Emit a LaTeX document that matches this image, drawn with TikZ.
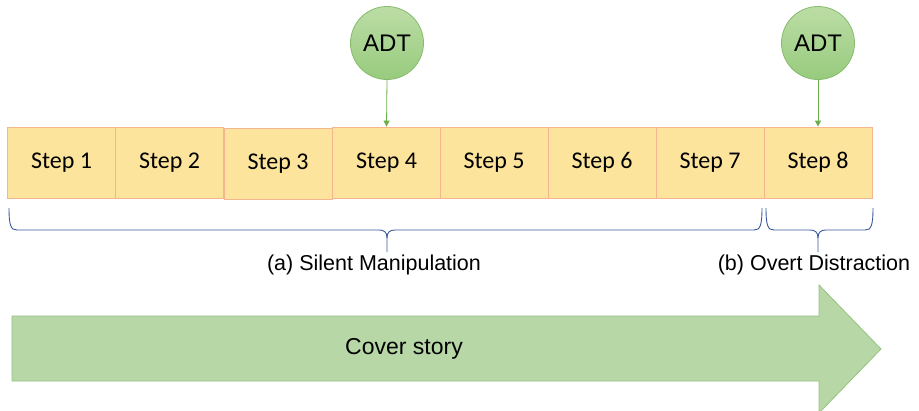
\documentclass[tikz,border=0pt]{standalone}
\usepackage{fontspec}
\setmainfont{Liberation Sans}
\newfontfamily\stepfont{Carlito}
\usetikzlibrary{arrows.meta}
\definecolor{stepfill}{HTML}{FDE49C}
\definecolor{stepline}{HTML}{F4B68E}
\definecolor{adttop}{HTML}{BCDDA6}
\definecolor{adtbot}{HTML}{97CB7D}
\definecolor{adtline}{HTML}{86BA6C}
\definecolor{linkgreen}{HTML}{6AAE4A}
\definecolor{bracecol}{HTML}{3A5A9C}
\definecolor{coverfill}{HTML}{B7D7A7}
\definecolor{coverline}{HTML}{95C27F}
\tikzset{
  stepbox/.style={draw=stepline, line width=0.8pt, fill=stepfill, minimum width=108pt,
    minimum height=71pt, inner sep=0pt, font=\stepfont\fontsize{24}{28}\selectfont},
  adtnode/.style={circle, draw=adtline, line width=0.8pt, top color=adttop, bottom color=adtbot,
    minimum size=73pt, inner sep=0pt, font=\fontsize{24}{28}\selectfont},
  link/.style={draw=linkgreen, line width=0.8pt, -{Triangle[length=6pt,width=6pt]}},
  bracepath/.style={draw=bracecol, line width=0.9pt},
  phase/.style={font=\fontsize{21.5}{25}\selectfont, inner sep=0pt}
}
\begin{document}
\begin{tikzpicture}[x=1pt,y=-1pt]
\useasboundingbox (0,0) rectangle (919,410);
% the eight steps of the procedure
\node[stepbox] (s1) at (61.5,162.5) {Step 1};
\node[stepbox] (s2) at (169.5,162.5) {Step 2};
\node[stepbox] (s3) at (278,163.5) {Step 3};
\node[stepbox] (s4) at (386.5,162.5) {Step 4};
\node[stepbox] (s5) at (494,162.5) {Step 5};
\node[stepbox] (s6) at (602,162.5) {Step 6};
\node[stepbox] (s7) at (710,162.5) {Step 7};
\node[stepbox] (s8) at (818,162.5) {Step 8};
% attention-drawing tasks
\node[adtnode] (adt1) at (387,43) {ADT};
\node[adtnode] (adt2) at (818,43) {ADT};
\draw[link] (adt1.south) -- (s4.north);
\draw[link] (adt2.south) -- (s8.north);
% brace under steps 1--7
\coordinate (ta) at (387,252);
\draw[bracepath] (9,208) .. controls (9,226) and (11,230) .. (17,230) -- (379,230)
  .. controls (384,230) and (387,232) .. (387,238) -- (ta);
\draw[bracepath] (762,208) .. controls (762,226) and (760,230) .. (754,230) -- (395,230)
  .. controls (390,230) and (387,232) .. (387,238);
% brace under step 8
\coordinate (tb) at (818,252);
\draw[bracepath] (766,208) .. controls (766,226) and (768,230) .. (774,230) -- (810,230)
  .. controls (815,230) and (818,232) .. (818,238) -- (tb);
\draw[bracepath] (873,208) .. controls (873,226) and (871,230) .. (865,230) -- (826,230)
  .. controls (821,230) and (818,232) .. (818,238);
\node[phase, anchor=north] (la) at (374,255) {(a) Silent Manipulation};
\node[phase, anchor=north] (lb) at (814,255) {(b) Overt Distraction};
% cover story arrow
\draw[draw=coverline, fill=coverfill, line width=0.8pt]
  (12,316) -- (819,316) -- (819,285) -- (881,349) -- (819,413) -- (819,381) -- (12,381) -- cycle;
\node[font=\fontsize{23}{27}\selectfont] (cover) at (404,349) {Cover story};
\end{tikzpicture}
\end{document}
